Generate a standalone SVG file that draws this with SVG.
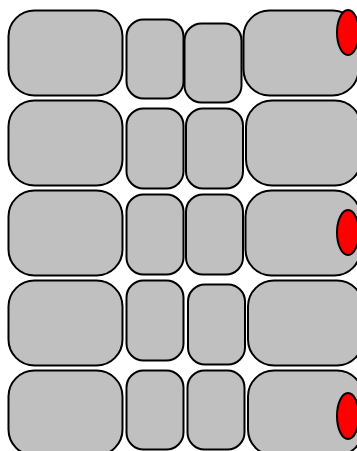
<svg xmlns="http://www.w3.org/2000/svg" width="357" height="451" viewBox="0 0 357 451">
<style>
.big{fill:#c0c0c0;stroke:#000;stroke-width:2}
.sm{fill:#c0c0c0;stroke:#000;stroke-width:2}
.dot{fill:#ff0000;stroke:#000;stroke-width:2}
</style>
<rect width="357" height="451" fill="#fff"/>
<g id="r1a"><rect class="big" x="8.5" y="10.5" width="114" height="85" rx="26" ry="26"/></g>
<g id="r1b"><rect class="sm" x="126.5" y="19.5" width="57" height="79" rx="17" ry="17"/></g>
<g id="r1c"><rect class="sm" x="184.5" y="23.5" width="57" height="79" rx="17" ry="17"/></g>
<g id="r1d"><rect class="big" x="243.5" y="10.5" width="115" height="85" rx="26" ry="26"/><ellipse class="dot" cx="348" cy="32.5" rx="11" ry="22.5"/></g>
<g id="r2a"><rect class="big" x="8.5" y="100.5" width="114" height="85" rx="26" ry="26"/></g>
<g id="r2b"><rect class="sm" x="126.5" y="108.5" width="57" height="80" rx="17" ry="17"/></g>
<g id="r2c"><rect class="sm" x="186" y="108.5" width="57" height="80" rx="17" ry="17"/></g>
<g id="r2d"><rect class="big" x="246" y="100.5" width="115" height="85" rx="26" ry="26"/></g>
<g id="r3a"><rect class="big" x="8.5" y="190.5" width="114" height="85" rx="26" ry="26"/></g>
<g id="r3b"><rect class="sm" x="126.5" y="194.5" width="57" height="80" rx="17" ry="17"/></g>
<g id="r3c"><rect class="sm" x="186" y="194.5" width="57" height="80" rx="17" ry="17"/></g>
<g id="r3d"><rect class="big" x="245.5" y="190.5" width="115" height="85" rx="26" ry="26"/><ellipse class="dot" cx="348" cy="232.5" rx="11" ry="22.5"/></g>
<g id="r4a"><rect class="big" x="8.5" y="280.5" width="114" height="85" rx="26" ry="26"/></g>
<g id="r4b"><rect class="sm" x="126.5" y="280.5" width="57" height="80" rx="17" ry="17"/></g>
<g id="r4c"><rect class="sm" x="188" y="284.5" width="57" height="80" rx="17" ry="17"/></g>
<g id="r4d"><rect class="big" x="248" y="280.5" width="115" height="85" rx="26" ry="26"/></g>
<g id="r5a"><rect class="big" x="8.5" y="370.5" width="114" height="85" rx="26" ry="26"/></g>
<g id="r5b"><rect class="sm" x="126.5" y="370.5" width="57" height="79" rx="17" ry="17"/></g>
<g id="r5c"><rect class="sm" x="187.5" y="370.5" width="57" height="79" rx="17" ry="17"/></g>
<g id="r5d"><rect class="big" x="248" y="370.5" width="115" height="85" rx="26" ry="26"/><ellipse class="dot" cx="348" cy="416" rx="11" ry="23"/></g>
<g id="connectors"></g>
</svg>
